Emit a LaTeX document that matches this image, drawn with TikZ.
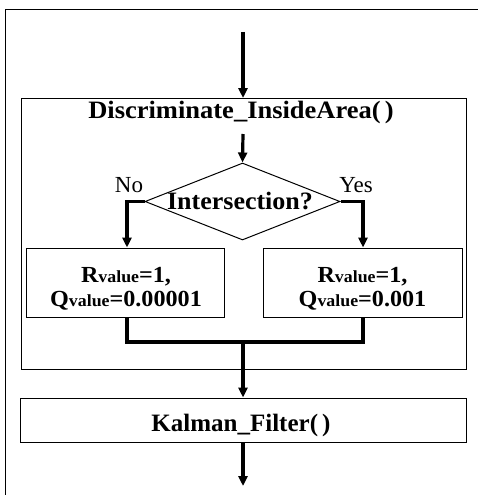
\documentclass[tikz,border=0pt]{standalone}
\usepackage{fontspec}
\setmainfont{Liberation Serif}
\usetikzlibrary{shapes.geometric,arrows.meta}
\newcommand{\sv}{{\fontsize{17}{17}\selectfont value}}
\tikzset{
  every node/.style={font=\fontsize{25}{20}\selectfont\bfseries},
  flow/.style={line width=3.2pt},
  arr/.style={line width=3.2pt,-{Triangle[length=10pt,width=9pt]}},
  thinline/.style={line width=1pt},
  box/.style={draw,line width=1pt,rectangle,inner sep=0pt},
  lbl/.style={font=\fontsize{23}{23}\selectfont,anchor=base},
  boxtext/.style={align=center,font=\fontsize{23}{24}\selectfont\bfseries},
}
\begin{document}
\begin{tikzpicture}[x=1pt,y=-1pt]
\useasboundingbox (0,0) rectangle (478,495);
% outer frame (cropped)
\draw[thinline] (5,500) -- (5,10) -- (480,10);
% inner group box
\node[box,minimum width=445pt,minimum height=271pt,anchor=north west] (grp) at (21,98) {};
\node[anchor=base] (title) at (241,118) {\addfontfeatures{FakeStretch=1.06}Discriminate\_InsideArea(\,)};
\coordinate (top) at (243,32);
\draw[arr] (top) -- (grp.north -| top);
% diamond
\node[draw,thinline,diamond,aspect=2.53,minimum width=195pt,minimum height=77pt,inner sep=0pt] (dec) at (242.5,201.5) {};
\node[anchor=base] (q) at (240,209) {\addfontfeatures{FakeStretch=1.04}Intersection?};
\coordinate (t2) at (243,134);
\draw[arr] (t2) -- (dec.north);
\node[lbl] (no) at (129,192) {No};
\node[lbl] (yes) at (356,192) {Yes};
% boxes
\node[box,minimum width=198pt,minimum height=69pt] (lb) at (125,282.5) {};
\node[box,minimum width=199pt,minimum height=69pt] (rb) at (362.5,282.5) {};
\node[boxtext] (lbt) at (126,289) {\addfontfeatures{FakeStretch=1.05}R\sv=1,\\\addfontfeatures{FakeStretch=1.05}Q\sv=0.00001};
\node[boxtext] (rbt) at (362.5,289) {\addfontfeatures{FakeStretch=1.05}R\sv=1,\\\addfontfeatures{FakeStretch=1.05}Q\sv=0.001};
\draw[arr] (dec.west) -| (lb.north -| 127,0);
\draw[arr] (dec.east) -| (rb.north -| 363,0);
% merge
\coordinate (m) at (243,342);
\draw[flow] (lb.south -| 127,0) |- (m) -| (rb.south -| 363,0);
% kalman
\node[box,minimum width=446pt,minimum height=44pt] (kal) at (243,420) {};
\node[anchor=base] (kalt) at (241,431) {Kalman\_Filter(\,)};
\draw[arr] (m) -- (kal.north);
\coordinate (end) at (243,486);
\draw[arr] (kal.south) -- (end);
\end{tikzpicture}
\end{document}
